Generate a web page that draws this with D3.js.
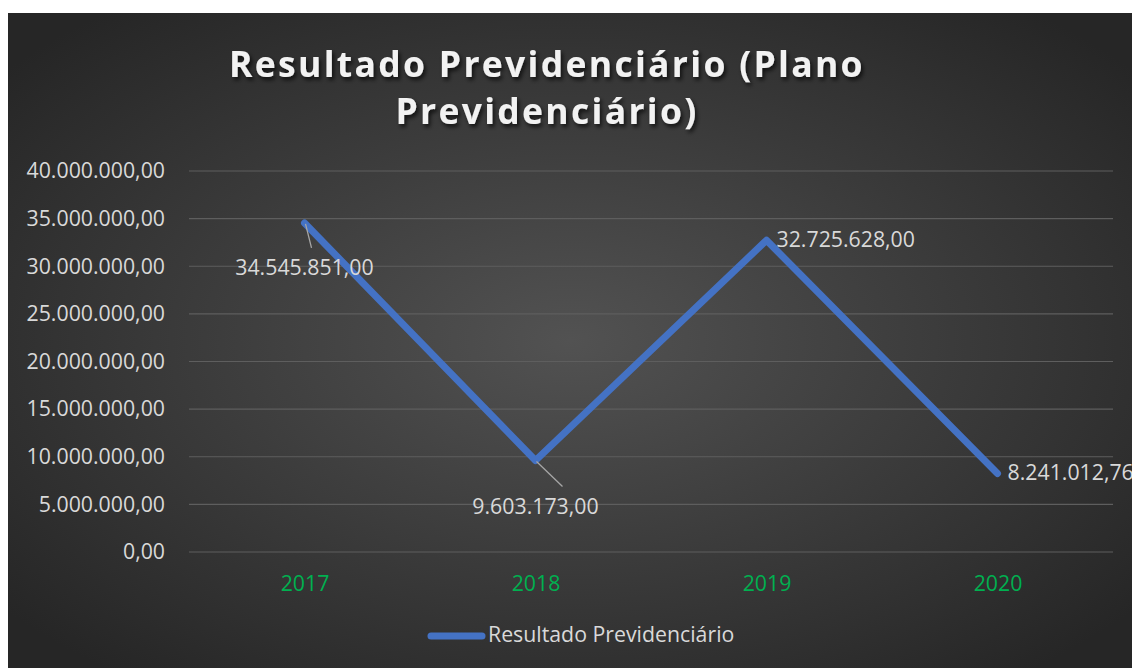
<!DOCTYPE html>
<html lang="pt">
<head>
  <meta charset="UTF-8">
  <title>Resultado Previdenciário</title>
  <script src="https://cdn.jsdelivr.net/npm/d3@7"></script>
  <style>
    body { margin: 0; background: #fff; }
    svg { display: block; }
  </style>
</head>
<body>
<div id="grafica"></div>
<script>
// dados
anos    = ['2017', '2018', '2019', '2020']
valores = [34545851.00, 9603173.00, 32725628.00, 8241012.76]
rotulos = ['34.545.851,00', '9.603.173,00', '32.725.628,00', '8.241.012,76']
ticksY  = [0, 5000000, 10000000, 15000000, 20000000, 25000000, 30000000, 35000000, 40000000]
serie   = 'Resultado Previdenciário'

ancho_total = 1132
alto_total  = 668
margin = { left: 189, right: 19, top: 171, bottom: 116 }
ancho = ancho_total - margin.left - margin.right
alto  = alto_total - margin.top - margin.bottom

fonte = '"Open Sans", "Noto Sans", sans-serif'
tam = 21.3

svg = d3.select('#grafica')
  .append('svg')
  .attr('width', ancho_total)
  .attr('height', alto_total)
  .style('font-family', fonte)

defs = svg.append('defs')
grad = defs.append('radialGradient')
  .attr('id', 'fundo')
  .attr('cx', '50%').attr('cy', '50%').attr('r', '65%')
grad.append('stop').attr('offset', '0%').attr('stop-color', '#525252')
grad.append('stop').attr('offset', '100%').attr('stop-color', '#262626')

sombra = defs.append('filter').attr('id', 'sombra')
  .attr('x', '-10%').attr('y', '-20%').attr('width', '120%').attr('height', '140%')
sombra.append('feDropShadow')
  .attr('dx', 2).attr('dy', 3).attr('stdDeviation', 2)
  .attr('flood-color', '#000').attr('flood-opacity', 0.7)

svg.append('rect')
  .attr('x', 8).attr('y', 13)
  .attr('width', ancho_total - 8).attr('height', alto_total - 13)
  .attr('fill', 'url(#fundo)')

// título
titulo = svg.append('text')
  .attr('text-anchor', 'middle')
  .attr('fill', '#f2f2f2')
  .attr('font-size', 35.5)
  .attr('font-weight', 'bold')
  .attr('letter-spacing', 2.3)
  .attr('filter', 'url(#sombra)')
titulo.append('tspan').attr('x', 547).attr('y', 77).text('Resultado Previdenciário (Plano')
titulo.append('tspan').attr('x', 547).attr('y', 124).text('Previdenciário)')

g = svg.append('g')
  .attr('transform', `translate(${margin.left},${margin.top})`)

x = d3.scalePoint().domain(anos).range([0, ancho]).padding(0.5)
y = d3.scaleLinear().domain([0, 40000000]).range([alto, 0])

fmt = d3.formatLocale({ decimal: ',', thousands: '.', grouping: [3], currency: ['', ''] }).format(',.2f')

// grade
g.append('g')
  .selectAll('line')
  .data(ticksY)
  .join('line')
  .attr('x1', 0).attr('x2', ancho)
  .attr('y1', d => y(d)).attr('y2', d => y(d))
  .attr('stroke', '#5e5e5e')
  .attr('stroke-width', 1.2)

yAxis = g.append('g')
  .call(d3.axisLeft(y).tickValues(ticksY).tickFormat(fmt).tickSize(0).tickPadding(24))
yAxis.select('.domain').remove()
yAxis.selectAll('text').attr('fill', '#d9d9d9').attr('font-size', tam).attr('font-family', fonte)

xAxis = g.append('g')
  .attr('transform', `translate(0,${alto})`)
  .call(d3.axisBottom(x).tickSize(0).tickPadding(24))
xAxis.select('.domain').remove()
xAxis.selectAll('text').attr('fill', '#00b050').attr('font-size', tam).attr('font-family', fonte)

linea = d3.line()
  .x((d, i) => x(anos[i]))
  .y(d => y(d))

g.append('path')
  .attr('d', linea(valores))
  .attr('fill', 'none')
  .attr('stroke', '#4472c4')
  .attr('stroke-width', 7)
  .attr('stroke-linejoin', 'round')
  .attr('stroke-linecap', 'round')

// rótulos de dados (posições deslocadas como no Excel)
desloc = [
  { dx: 0, dy: 46, anchor: 'middle', linha: [1, 1, 7, 25] },
  { dx: 0, dy: 48, anchor: 'middle', linha: [1, 1, 27, 26] },
  { dx: 10, dy: 1, anchor: 'start', linha: null },
  { dx: 10, dy: 1, anchor: 'start', linha: null }
]

rot = g.append('g')
valores.forEach((v, i) => {
  px = x(anos[i]); py = y(v); o = desloc[i]
  if (o.linha) {
    rot.append('line')
      .attr('x1', px + o.linha[0]).attr('y1', py + o.linha[1])
      .attr('x2', px + o.linha[2]).attr('y2', py + o.linha[3])
      .attr('stroke', '#a6a6a6').attr('stroke-width', 1.3)
  }
  rot.append('text')
    .attr('x', px + o.dx).attr('y', py + o.dy)
    .attr('text-anchor', o.anchor)
    .attr('dominant-baseline', 'middle')
    .attr('fill', '#d9d9d9')
    .attr('font-size', tam)
    .text(rotulos[i])
})

// legenda
leg = svg.append('g')
leg.append('line')
  .attr('x1', 431).attr('x2', 482).attr('y1', 636).attr('y2', 636)
  .attr('stroke', '#4472c4').attr('stroke-width', 7).attr('stroke-linecap', 'round')
leg.append('text')
  .attr('x', 488).attr('y', 636)
  .attr('dominant-baseline', 'middle')
  .attr('fill', '#d9d9d9').attr('font-size', tam)
  .text(serie)
</script>
</body>
</html>
